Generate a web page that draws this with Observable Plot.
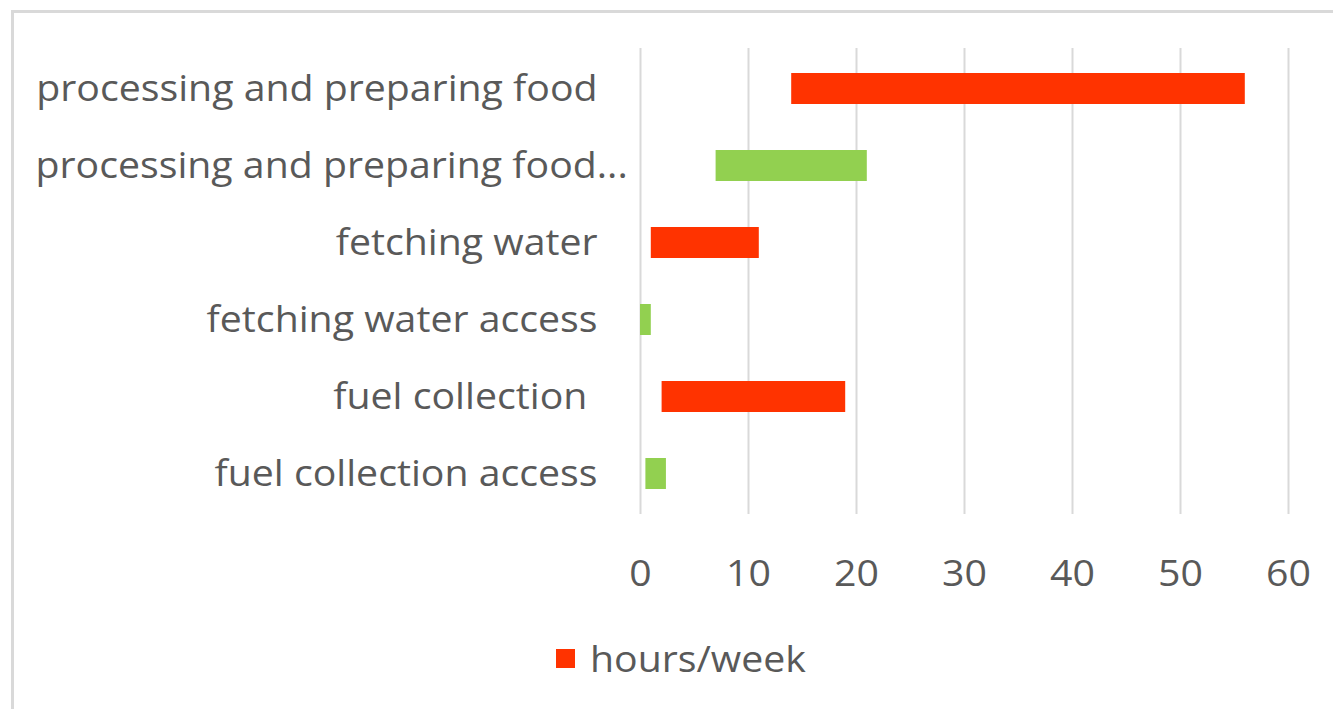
<!DOCTYPE html>
<html>
<head>
<meta charset="utf-8">
<script src="https://cdn.jsdelivr.net/npm/d3@7"></script>
<script src="https://cdn.jsdelivr.net/npm/@observablehq/plot@0.6"></script>
<style>
  html, body { margin: 0; padding: 0; background: #fff; }
  #frame {
    position: absolute; left: 11px; top: 10px; right: -10px; bottom: -10px;
    border-left: 3px solid #d9d9d9; border-top: 3px solid #d9d9d9;
    pointer-events: none;
  }
  #chart { position: absolute; left: 0; top: 0; width: 1333px; height: 709px; overflow: hidden; }
  #legend {
    display: flex; align-items: center; justify-content: flex-start;
    padding-left: 556px; height: 40px; margin-top: 18px;
    font-family: "Open Sans", sans-serif; font-size: 36px; color: #595959;
  }
  #legend .sw { width: 19px; height: 19px; margin-right: 15px; }
  #legend .lt { display: inline-block; transform: scaleX(1.09); transform-origin: left center; }
</style>
</head>
<body>
<div id="chart"></div>
<div id="frame"></div>
<script>
// Categories (top to bottom)
const categories = [
  "processing and preparing food",
  "processing and preparing food access",
  "fetching water",
  "fetching water access",
  "fuel collection",
  "fuel collection access"
];
// Tick labels as shown in the chart
const tickLabels = [
  "processing and preparing food",
  "processing and preparing food...",
  "fetching water",
  "fetching water access",
  "fuel collection\u00a0",
  "fuel collection access"
];
// Range start / end (hours per week)
const startValues = [14, 7, 1, 0, 2, 0.5];
const endValues   = [56, 21, 11, 1, 19, 2.4];
// Series for each bar
const seriesOf = ["hours/week", "access", "hours/week", "access", "hours/week", "access"];
const seriesNames = ["hours/week", "access"];
const seriesColors = ["#ff3300", "#92d050"];
const xTicks = [0, 10, 20, 30, 40, 50, 60];
const legendItems = ["hours/week"];

const data = categories.map((c, i) => ({cat: c, start: startValues[i], end: endValues[i], series: seriesOf[i]}));
const labelOf = new Map(categories.map((c, i) => [c, tickLabels[i]]));
const truncated = categories[1];
const normalCats = categories.filter(c => c !== truncated);

const font = "\"Open Sans\", sans-serif";
const fs = 36;
const plot = Plot.plot({
  width: 1333,
  height: 620,
  marginLeft: 640,
  marginRight: 45,
  marginTop: 48,
  marginBottom: 106,
  style: {fontFamily: font, fontSize: fs + "px", color: "#595959", background: "transparent"},
  x: {domain: [0, 60]},
  y: {domain: categories, paddingInner: 0.6, paddingOuter: 0.3},
  color: {domain: seriesNames, range: seriesColors},
  marks: [
    Plot.gridX(xTicks, {stroke: "#d9d9d9", strokeOpacity: 1, strokeWidth: 2}),
    Plot.axisX({ticks: xTicks, tickSize: 0, tickPadding: 46, fill: "#595959", fontSize: fs, label: null}),
    Plot.axisY({ticks: normalCats, tickSize: 0, tickPadding: 43, tickFormat: d => labelOf.get(d), fill: "#595959", fontSize: fs, label: null}),
    Plot.axisY({ticks: [truncated], tickSize: 0, tickPadding: 605, textAnchor: "start", tickFormat: d => labelOf.get(d), fill: "#595959", fontSize: fs, label: null}),
    Plot.barX(data, {x1: "start", x2: "end", y: "cat", fill: "series", inset: 0})
  ]
});
const chart = document.getElementById("chart");
chart.appendChild(plot);

// slightly widen glyphs to match the reference's wide type
const stretch = 1.09;
plot.querySelectorAll("text").forEach(t => {
  const len = t.getComputedTextLength();
  if (len > 0) {
    t.setAttribute("textLength", (len * stretch).toFixed(1));
    t.setAttribute("lengthAdjust", "spacingAndGlyphs");
  }
});

const legend = document.createElement("div");
legend.id = "legend";
legendItems.forEach(name => {
  const sw = document.createElement("span");
  sw.className = "sw";
  sw.style.background = seriesColors[seriesNames.indexOf(name)];
  const t = document.createElement("span");
  t.className = "lt";
  t.textContent = name;
  legend.appendChild(sw);
  legend.appendChild(t);
});
chart.appendChild(legend);
</script>
</body>
</html>
